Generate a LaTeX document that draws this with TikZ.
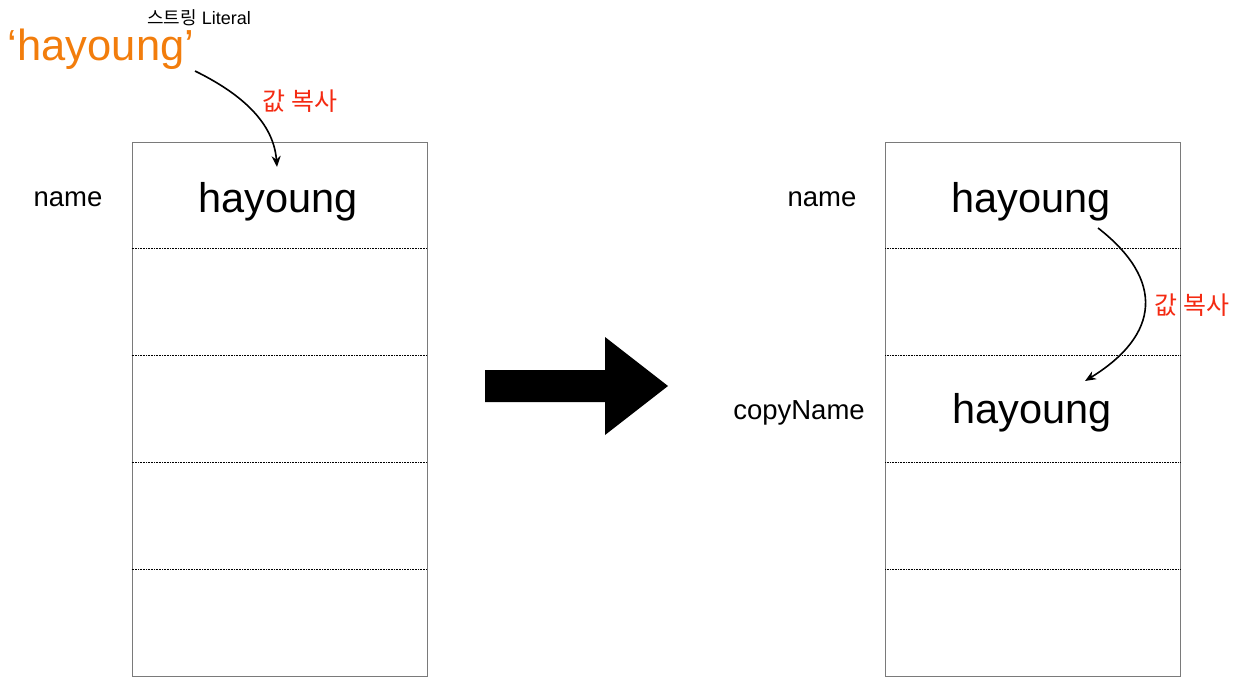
\documentclass[tikz,border=0pt]{standalone}
\usepackage{fontspec}
\setmainfont{Liberation Sans}
\newfontfamily\kor{Noto Sans CJK KR}
\usetikzlibrary{positioning, arrows.meta, calc}

\definecolor{litorange}{HTML}{F27D0C}
\definecolor{copyred}{HTML}{F42A12}
\definecolor{boxgray}{HTML}{7A7A7A}

\begin{document}
\begin{tikzpicture}[x=1pt, y=-1pt, >={Stealth[length=11pt, width=9pt]},
    stack/.style={draw=boxgray, line width=0.8pt, minimum width=295pt, minimum height=534pt, inner sep=0pt},
    val/.style={anchor=base, inner sep=0pt, font=\fontsize{41.5}{41.5}\selectfont},
    var/.style={anchor=base, inner sep=0pt, font=\fontsize{27.5}{27.5}\selectfont},
    copyarrow/.style={->, line width=1.6pt},
    note/.style={text=copyred, font=\kor\fontsize{25}{25}\selectfont}]
    \useasboundingbox (0,0) rectangle (1238,679);

    % Memory stacks (left: before, right: after)
    \node[stack] (lstack) at (279.5,409) {};
    \node[stack] (rstack) at (1033,409) {};
    \foreach \s in {lstack, rstack}
        \foreach \k in {1,...,4}
            \draw[densely dotted, line width=0.6pt]
                ($(\s.north west)!\k/5!(\s.south west)$) -- ($(\s.north east)!\k/5!(\s.south east)$);

    % Left side
    \node[anchor=base, inner sep=0pt] (lit) at (101,61)
        {\textcolor{litorange}{\fontsize{43.5}{43.5}\selectfont `hayoung'}};
    \node[anchor=base, inner sep=0pt] (littag) at (199,25) {\fontsize{18}{18}\selectfont{\kor 스트링} Literal};
    \node[val] (lval) at (278,212) {hayoung};
    \node[var] (lname) at (68,206) {name};
    \coordinate (lfrom) at (195,71);
    \coordinate (lto) at (277,167);
    \draw[copyarrow] (lfrom) .. controls (250,98) and (274,128) .. (lto);
    \node[note] (lnote) at (300,101) {값 복사};

    % Transition
    \fill[black] (485,370) -- (605,370) -- (605,337) -- (668,386)
        -- (605,435) -- (605,402) -- (485,402) -- cycle;

    % Right side
    \node[val] (rval) at (1031,212) {hayoung};
    \node[var] (rname) at (822,206) {name};
    \node[val] (cval) at (1032,423) {hayoung};
    \node[var] (cname) at (799,419) {copyName};
    \coordinate (rfrom) at (1098,228);
    \coordinate (rto) at (1085,381);
    \draw[copyarrow] (rfrom) .. controls (1165,280) and (1160,335) .. (rto);
    \node[note] (rnote) at (1192,305) {값 복사};
\end{tikzpicture}
\end{document}
